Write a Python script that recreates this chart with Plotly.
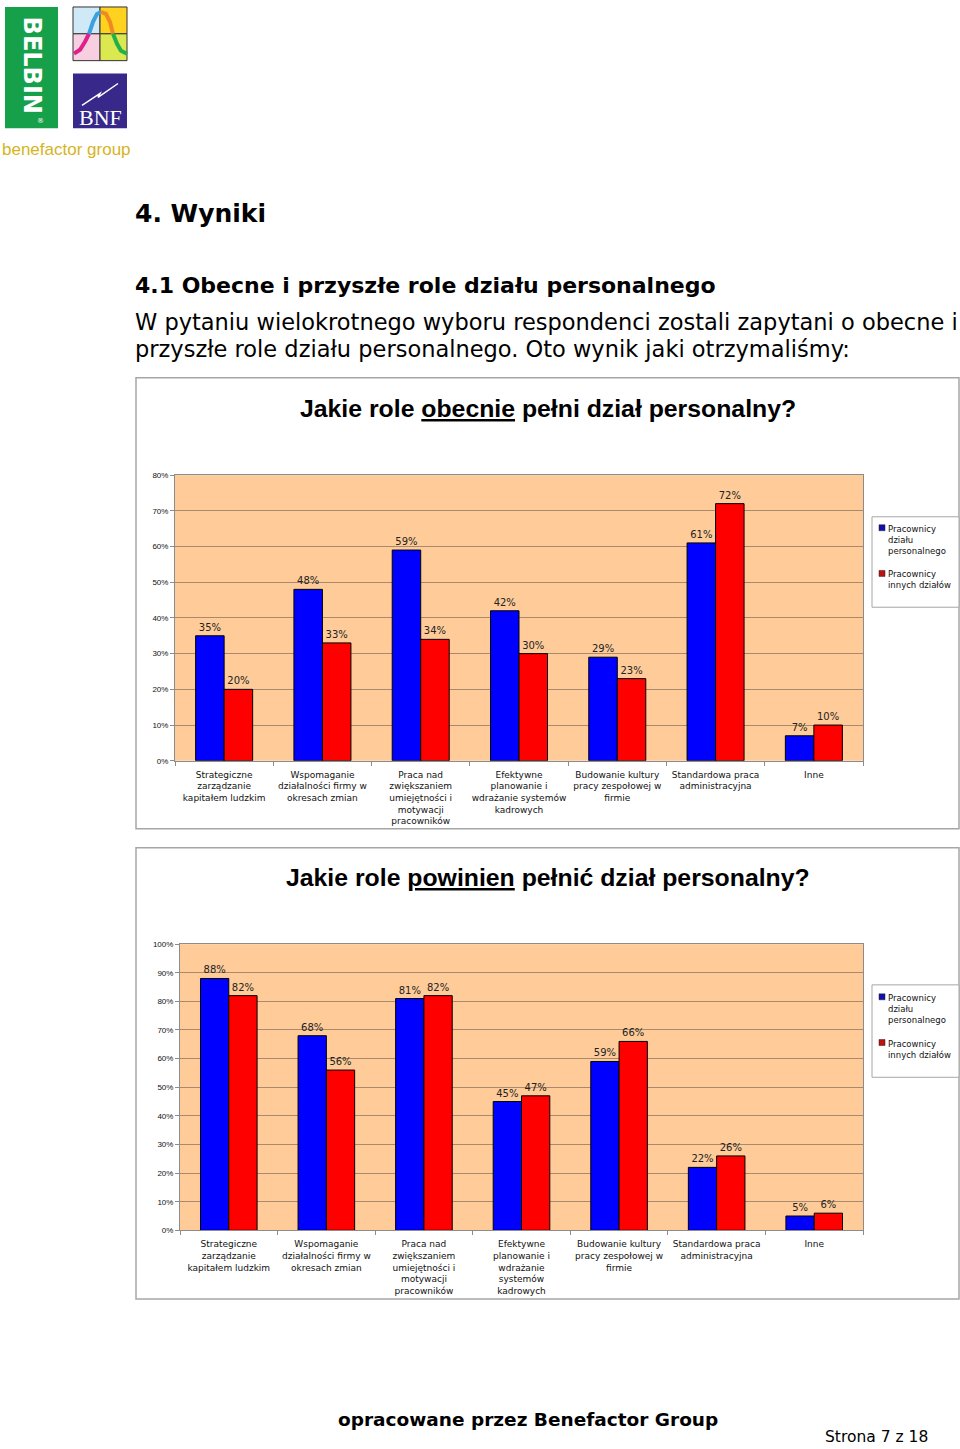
import plotly.graph_objects as go

# ---------------- data ----------------
categories1 = [
    "Strategiczne<br>zarządzanie<br>kapitałem ludzkim",
    "Wspomaganie<br>działalności firmy w<br>okresach zmian",
    "Praca nad<br>zwiększaniem<br>umiejętności i<br>motywacji<br>pracowników",
    "Efektywne<br>planowanie i<br>wdrażanie systemów<br>kadrowych",
    "Budowanie kultury<br>pracy zespołowej w<br>firmie",
    "Standardowa praca<br>administracyjna",
    "Inne",
]
categories2 = [
    "Strategiczne<br>zarządzanie<br>kapitałem ludzkim",
    "Wspomaganie<br>działalności firmy w<br>okresach zmian",
    "Praca nad<br>zwiększaniem<br>umiejętności i<br>motywacji<br>pracowników",
    "Efektywne<br>planowanie i<br>wdrażanie<br>systemów<br>kadrowych",
    "Budowanie kultury<br>pracy zespołowej w<br>firmie",
    "Standardowa praca<br>administracyjna",
    "Inne",
]
series_names = ["Pracownicy działu personalnego", "Pracownicy innych działów"]
legend_labels = ["Pracownicy<br>działu<br>personalnego", "Pracownicy<br>innych działów"]
obecnie_hr = [35, 48, 59, 42, 29, 61, 7]
obecnie_other = [20, 33, 34, 30, 23, 72, 10]
powinien_hr = [88, 68, 81, 45, 59, 22, 5]
powinien_other = [82, 56, 82, 47, 66, 26, 6]
y1_ticks = [0, 10, 20, 30, 40, 50, 60, 70, 80]
y2_ticks = [0, 10, 20, 30, 40, 50, 60, 70, 80, 90, 100]

W, H = 960, 1449


def px(x):
    return x / W


def py(y):
    return 1 - y / H


BLUE = "#0000FF"
RED = "#FF0000"
GRID = "#a88a6e"
AXIS = "#8c8c8c"
SANS = "DejaVu Sans"

fig = go.Figure()

for cats, hr, oth, xa, ya in [
    (categories1, obecnie_hr, obecnie_other, "x", "y"),
    (categories2, powinien_hr, powinien_other, "x2", "y2"),
]:
    for name, vals, col in [(series_names[0], hr, BLUE), (series_names[1], oth, RED)]:
        fig.add_trace(go.Bar(
            x=cats, y=vals, name=name, xaxis=xa, yaxis=ya,
            marker=dict(color=col, line=dict(color="black", width=1)),
            text=[f"{v}%" for v in vals], texttemplate="%{text}",
            textposition="outside", constraintext="none",
            cliponaxis=False,
            textfont=dict(family=SANS, size=10, color="#222"),
            showlegend=False, hoverinfo="x+y",
        ))


def xaxis_cfg(x0, x1, anchor):
    return dict(
        domain=[px(x0), px(x1)], anchor=anchor, type="category",
        tickson="boundaries", ticks="outside", ticklen=4, tickcolor=AXIS,
        showline=True, linecolor=AXIS, linewidth=1, mirror=True,
        showgrid=False, tickangle=0, ticklabelstandoff=5,
        tickfont=dict(family=SANS, size=9, color="#111"),
    )


def yaxis_cfg(y_top, y_bot, anchor, ticks):
    return dict(
        domain=[py(y_bot), py(y_top)], anchor=anchor,
        range=[ticks[0], ticks[-1]], tickvals=ticks,
        ticktext=[f"{t}%" for t in ticks],
        ticks="outside", ticklen=4, tickcolor=AXIS,
        showline=True, linecolor=AXIS, linewidth=1, mirror=True,
        showgrid=True, gridcolor=GRID, gridwidth=1, zeroline=False,
        tickfont=dict(family="Liberation Sans", size=8, color="#111"),
    )


shapes = []
annotations = []


def note(text, x, y, size, family=SANS, color="black", xanchor="center",
         yanchor="middle", **kw):
    d = dict(text=text, xref="paper", yref="paper", x=px(x), y=py(y),
             xanchor=xanchor, yanchor=yanchor, showarrow=False,
             font=dict(family=family, size=size, color=color))
    d.update(kw)
    annotations.append(d)


# chart frames
for (y0, y1) in [(376, 830), (849, 1303)]:
    shapes.append(dict(type="rect", xref="paper", yref="paper",
                       x0=px(136), x1=px(959), y0=py(y0), y1=py(y1),
                       line=dict(color="#a6a6a6", width=1.5), fillcolor="rgba(0,0,0,0)",
                       layer="below"))

# manual legends
for (top, bot, t1, t2) in [(516, 607, 521, 567), (987, 1080, 993, 1039)]:
    shapes.append(dict(type="rect", xref="paper", yref="paper",
                       x0=px(872), x1=px(959), y0=py(top), y1=py(bot),
                       line=dict(color="#a6a6a6", width=1), fillcolor="white"))
    for tt, col, lab in [(t1, "#1010b0", legend_labels[0]), (t2, "#c01010", legend_labels[1])]:
        shapes.append(dict(type="rect", xref="paper", yref="paper",
                           x0=px(879), x1=px(885), y0=py(tt + 3), y1=py(tt + 9),
                           line=dict(color="#222", width=0.5), fillcolor=col))
        note(lab, 886, tt, 8.5, xanchor="left", yanchor="top", align="left",
             color="#111")

# chart titles
note("<b>Jakie role <u>obecnie</u> pełni dział personalny?</b>", 548, 407, 24.8,
     family="Liberation Sans")
note("<b>Jakie role <u>powinien</u> pełnić dział personalny?</b>", 548, 879, 24.8,
     family="Liberation Sans")

# page text
note("<b>4. Wyniki</b>", 133, 211, 25, xanchor="left")
note("<b>4.1 Obecne i przyszłe role działu personalnego</b>", 133, 283, 22, xanchor="left")
note("W pytaniu wielokrotnego wyboru respondenci zostali zapytani o obecne i",
     133, 320, 22.5, xanchor="left")
note("przyszłe role działu personalnego. Oto wynik jaki otrzymaliśmy:",
     133, 347, 22.5, xanchor="left")

# footer
note("<b>opracowane przez Benefactor Group</b>", 528, 1424, 18.5)
note("Strona 7 z 18", 823, 1442, 15.5, xanchor="left")

# ---- logo ----
shapes.append(dict(type="rect", xref="paper", yref="paper", x0=px(5), x1=px(58),
                   y0=py(3), y1=py(125), line=dict(width=0), fillcolor="#16a04a"))
note("<b>BELBIN</b>", 32, 61, 24, color="white", textangle=90)
note("®", 40, 118, 7, color="white")
quads = [(73, 100, 3, 30, "#cfe9f7"), (100, 127, 3, 30, "#ffd21f"),
         (73, 100, 30, 57, "#f7cfe0"), (100, 127, 30, 57, "#dbe84f")]
for x0, x1, y0, y1, c in quads:
    shapes.append(dict(type="rect", xref="paper", yref="paper", x0=px(x0), x1=px(x1),
                       y0=py(y0), y1=py(y1), line=dict(color="#333", width=1), fillcolor=c))


def pth(points):
    return "M " + " L ".join(f"{px(a):.5f},{py(b):.5f}" for a, b in points)


curve_parts = [
    ([(74, 50), (80, 46), (85, 38), (89, 30)], "#e0208a"),
    ([(89, 30), (93, 18), (97, 10), (101, 8)], "#3aa0e0"),
    ([(101, 8), (106, 10), (110, 18), (113, 30)], "#f08a20"),
    ([(113, 30), (117, 40), (121, 47), (127, 50)], "#22b04a"),
]
for pts, c in curve_parts:
    shapes.append(dict(type="path", xref="paper", yref="paper", path=pth(pts),
                       line=dict(color=c, width=4)))
shapes.append(dict(type="rect", xref="paper", yref="paper", x0=px(73), x1=px(127),
                   y0=py(70), y1=py(125), line=dict(width=0), fillcolor="#37288a"))
shapes.append(dict(type="path", xref="paper", yref="paper",
                   path=pth([(82, 102), (100, 90), (98, 94), (118, 80)]),
                   line=dict(color="white", width=1.5)))
note("BNF", 100, 114, 22, family="Liberation Serif", color="white")
note("benefactor group", 66, 146, 17, family="Liberation Sans", color="#d6b41e")

fig.update_layout(
    width=W, height=H, margin=dict(l=0, r=0, t=0, b=0),
    paper_bgcolor="white", plot_bgcolor="#FFCC99",
    barmode="group", bargap=0.42, bargroupgap=0,
    showlegend=False,
    xaxis=xaxis_cfg(175, 863, "y"),
    yaxis=yaxis_cfg(474, 761.5, "x", y1_ticks),
    xaxis2=xaxis_cfg(180, 863, "y2"),
    yaxis2=yaxis_cfg(946, 1234, "x2", y2_ticks),
    shapes=shapes, annotations=annotations,
    font=dict(family=SANS),
)

fig.write_html("out.html", config={"displayModeBar": False},
               post_script="document.body.style.margin='0px';document.body.style.padding='0px';")
